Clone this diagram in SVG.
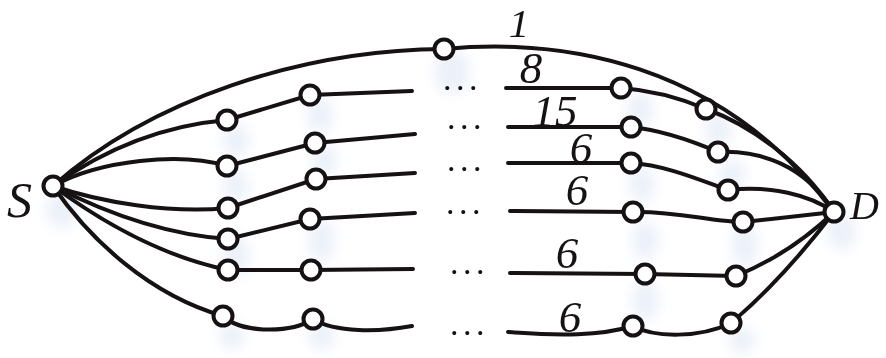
<svg xmlns="http://www.w3.org/2000/svg" width="886" height="358" viewBox="0 0 886 358">
<style>
.e{fill:none;stroke:#161213;stroke-width:4;stroke-linecap:round}
.n circle{fill:#fff;stroke:#161213;stroke-width:4}
.t{font-family:"Liberation Serif","Times New Roman",serif;font-style:italic;fill:#161213}
.d{font-family:"Liberation Serif","Times New Roman",serif;fill:#161213;font-size:34px;letter-spacing:4.5px}
.g{fill:#e3eaf7;opacity:0.7}
</style>
<defs>
<filter id="blur" x="-50%" y="-50%" width="200%" height="200%"><feGaussianBlur stdDeviation="7"/></filter>
</defs>
<g id="shadows" filter="url(#blur)">
<ellipse class="g" cx="62" cy="210" rx="16" ry="18"/>
<ellipse class="g" cx="236" cy="140" rx="13" ry="18"/><ellipse class="g" cx="236" cy="186" rx="13" ry="16"/>
<ellipse class="g" cx="236" cy="255" rx="13" ry="22"/><ellipse class="g" cx="232" cy="335" rx="13" ry="14"/>
<ellipse class="g" cx="320" cy="115" rx="13" ry="18"/><ellipse class="g" cx="324" cy="160" rx="13" ry="16"/>
<ellipse class="g" cx="322" cy="240" rx="13" ry="22"/><ellipse class="g" cx="322" cy="336" rx="13" ry="14"/>
<ellipse class="g" cx="452" cy="72" rx="18" ry="22"/>
<ellipse class="g" cx="640" cy="110" rx="13" ry="18"/><ellipse class="g" cx="642" cy="185" rx="13" ry="18"/>
<ellipse class="g" cx="645" cy="240" rx="13" ry="20"/><ellipse class="g" cx="645" cy="300" rx="13" ry="22"/>
<ellipse class="g" cx="718" cy="130" rx="13" ry="18"/><ellipse class="g" cx="732" cy="175" rx="13" ry="16"/>
<ellipse class="g" cx="745" cy="245" rx="13" ry="22"/><ellipse class="g" cx="742" cy="340" rx="13" ry="14"/>
<ellipse class="g" cx="842" cy="232" rx="14" ry="18"/>
</g>
<g id="connectors">
<path class="e" d="M53,186 C150,100 300,50 444,49"/>
<path class="e" d="M444,49 C560,38 720,60 834,212"/>
<path class="e" d="M53,186 C110,145 170,125 227,120"/>
<path class="e" d="M53,186 C100,160 180,152 227,166"/>
<path class="e" d="M53,186 C100,202 170,214 228,208"/>
<path class="e" d="M53,186 C110,215 170,235 228,239"/>
<path class="e" d="M53,186 C110,228 170,258 228,270"/>
<path class="e" d="M53,186 C90,240 150,295 223,316"/>
<path class="e" d="M227,120 L310,95 L412,91"/>
<path class="e" d="M227,166 L315,143 L415,134"/>
<path class="e" d="M228,208 L316,179 L415,173"/>
<path class="e" d="M228,239 L310,219 L415,213"/>
<path class="e" d="M228,270 L311,270 L413,269"/>
<path class="e" d="M223,316 C240,333 290,334 313,319 C335,333 380,332 412,326"/>
<path class="e" d="M506,88 L621,88 C650,90 680,98 706,109 C750,125 800,160 834,212"/>
<path class="e" d="M508,127 L631,127 C660,130 690,140 718,152 C760,150 805,165 834,212"/>
<path class="e" d="M508,163 L631,163 C665,165 700,180 728,190 C770,185 810,195 834,212"/>
<path class="e" d="M510,211 L633,212 C680,211 710,222 743,222 L834,212"/>
<path class="e" d="M510,273 L645,274 L736,276 C770,262 805,240 834,212"/>
<path class="e" d="M508,332 C560,336 600,336 633,326 C655,338 700,338 731,323 C770,290 805,250 834,212"/>
</g>
<g id="S" class="n"><circle cx="53" cy="186" r="9.5"/><text class="t" x="7" y="217" font-size="50">S</text></g>
<g id="D" class="n"><circle cx="834" cy="212" r="9.5"/><text class="t" x="850" y="219" font-size="40">D</text></g>
<g id="n-top" class="n"><circle cx="444" cy="49" r="9.5"/></g>
<g id="c1" class="n">
<circle cx="227" cy="120" r="9.5"/><circle cx="227" cy="166" r="9.5"/><circle cx="228" cy="208" r="9.5"/>
<circle cx="228" cy="239" r="9.5"/><circle cx="228" cy="270" r="9.5"/><circle cx="223" cy="316" r="9.5"/>
</g>
<g id="c2" class="n">
<circle cx="310" cy="95" r="9.5"/><circle cx="315" cy="143" r="9.5"/><circle cx="316" cy="179" r="9.5"/>
<circle cx="310" cy="219" r="9.5"/><circle cx="311" cy="270" r="9.5"/><circle cx="313" cy="319" r="9.5"/>
</g>
<g id="c3" class="n">
<circle cx="621" cy="88" r="9.5"/><circle cx="631" cy="127" r="9.5"/><circle cx="631" cy="163" r="9.5"/>
<circle cx="633" cy="212" r="9.5"/><circle cx="645" cy="274" r="9.5"/><circle cx="633" cy="326" r="9.5"/>
</g>
<g id="c4" class="n">
<circle cx="706" cy="109" r="9.5"/><circle cx="718" cy="152" r="9.5"/><circle cx="728" cy="190" r="9.5"/>
<circle cx="743" cy="222" r="9.5"/><circle cx="736" cy="276" r="9.5"/><circle cx="731" cy="323" r="9.5"/>
</g>
<g id="dots">
<text class="d" x="443" y="90">...</text>
<text class="d" x="447" y="129">...</text>
<text class="d" x="447" y="171">...</text>
<text class="d" x="446" y="214">...</text>
<text class="d" x="450" y="274">...</text>
<text class="d" x="450" y="335">...</text>
</g>
<g id="labels" class="t" font-size="45" text-anchor="middle">
<text x="519" y="37" font-size="41">1</text>
<text x="531" y="83">8</text>
<text x="555" y="126">15</text>
<text x="581" y="163">6</text>
<text x="577" y="205">6</text>
<text x="567" y="268">6</text>
<text x="570" y="332">6</text>
</g>
</svg>
